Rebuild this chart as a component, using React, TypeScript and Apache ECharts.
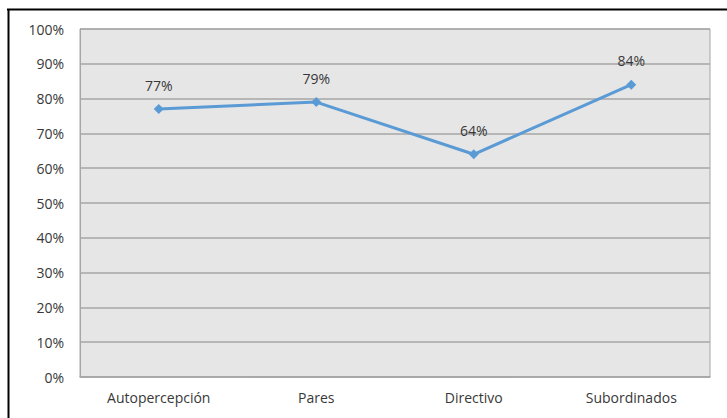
import React, { useEffect, useRef } from "react";
import * as echarts from "echarts";

const categories = ["Autopercepción", "Pares", "Directivo", "Subordinados"];
const values = [0.77, 0.79, 0.64, 0.84];
const yTicks = [0, 0.1, 0.2, 0.3, 0.4, 0.5, 0.6, 0.7, 0.8, 0.9, 1];

const FONT = "'Open Sans', 'Noto Sans', sans-serif";
const TEXT = "#383838";

export default function App() {
  const ref = useRef<HTMLDivElement>(null);
  useEffect(() => {
    if (!ref.current) return;
    const chart = echarts.init(ref.current, undefined, { renderer: "svg" });
    chart.setOption({
      animation: false,
      backgroundColor: "#ffffff",
      grid: {
        left: 80,
        right: 17,
        top: 29,
        bottom: 41,
        show: true,
        backgroundColor: "#e6e6e6",
        borderColor: "#a6a6a6",
        borderWidth: 1,
      },
      xAxis: {
        type: "category",
        data: categories,
        boundaryGap: true,
        axisLine: { show: true, lineStyle: { color: "#a6a6a6", width: 1.5 } },
        axisTick: { show: false },
        axisLabel: { color: TEXT, fontFamily: FONT, fontSize: 14, margin: 13 },
        splitLine: { show: false },
      },
      yAxis: {
        type: "value",
        min: yTicks[0],
        max: yTicks[yTicks.length - 1],
        interval: 0.1,
        axisLine: { show: true, lineStyle: { color: "#a6a6a6" } },
        axisTick: { show: false },
        axisLabel: {
          color: TEXT,
          fontFamily: FONT,
          fontSize: 14,
          margin: 16,
          formatter: (v: number) => Math.round(v * 100) + "%",
        },
        splitLine: { show: true, lineStyle: { color: "#a6a6a6", width: 1.5 } },
      },
      series: [
        {
          type: "line",
          data: values,
          symbol: "diamond",
          symbolSize: 10,
          lineStyle: { color: "#5b9bd5", width: 3 },
          itemStyle: { color: "#5b9bd5" },
          label: {
            show: true,
            position: "top",
            distance: 12,
            color: TEXT,
            fontFamily: FONT,
            fontSize: 14,
            formatter: (p: any) => Math.round(p.value * 100) + "%",
          },
        },
      ],
      graphic: [
        {
          type: "line",
          shape: { x1: 7, y1: 9.5, x2: 727, y2: 9.5 },
          style: { stroke: "#000000", lineWidth: 2 },
        },
        {
          type: "line",
          shape: { x1: 8.5, y1: 9, x2: 8.5, y2: 418 },
          style: { stroke: "#000000", lineWidth: 2 },
        },
      ],
    });
    return () => chart.dispose();
  }, []);
  return (
    <div
      ref={ref}
      style={{ position: "fixed", left: 0, top: 0, width: 727, height: 418 }}
    />
  );
}
